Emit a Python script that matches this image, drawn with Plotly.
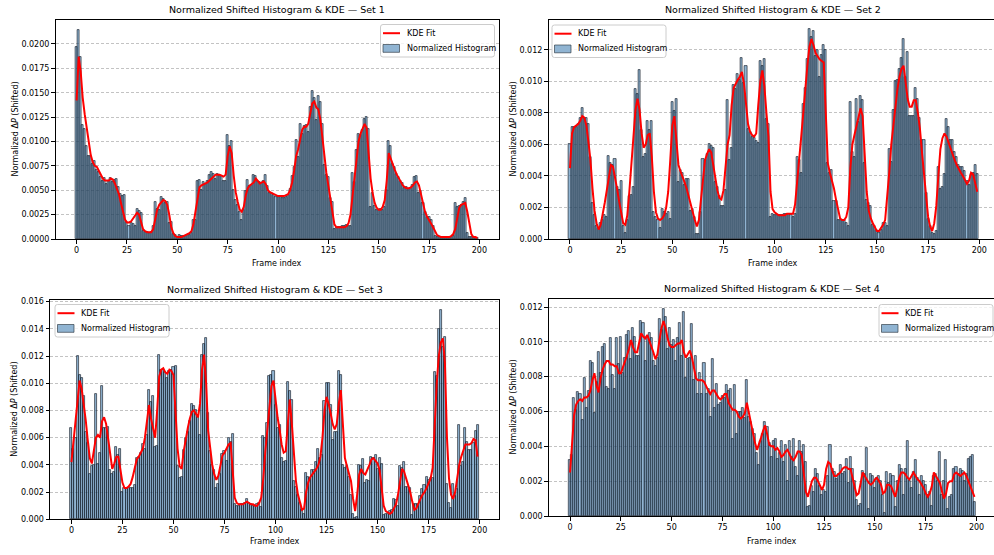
import plotly.graph_objects as go

frames = list(range(200))
x_tick_vals = [0, 25, 50, 75, 100, 125, 150, 175, 200]
titles = ["Normalized Shifted Histogram & KDE — Set 1",
          "Normalized Shifted Histogram & KDE — Set 2",
          "Normalized Shifted Histogram & KDE — Set 3",
          "Normalized Shifted Histogram & KDE — Set 4"]
x_label = "Frame index"
y_label = "Normalized Δ<i>P</i> (Shifted)"
kde_name = "KDE Fit"
hist_name = "Normalized Histogram"

hist_set1 = [
    0.0197, 0.0214, 0.0187, 0.0117, 0.0113, 0.0095, 0.0085, 0.0085, 0.0077, 0.0080,
    0.0071, 0.0069, 0.0064, 0.0059, 0.0063, 0.0056, 0.0059, 0.0063, 0.0058, 0.0061,
    0.0062, 0.0053, 0.0046, 0.0044, 0.0045, 0.0017, 0.0013, 0.0016, 0.0015, 0.0013,
    0.0031, 0.0029, 0.0027, 0.0008, 0.0007, 0.0007, 0.0006, 0.0007, 0.0013, 0.0038,
    0.0031, 0.0030, 0.0043, 0.0041, 0.0037, 0.0038, 0.0016, 0.0017, 0.0005, 0.0004,
    0.0002, 0.0004, 0.0003, 0.0003, 0.0003, 0.0004, 0.0004, 0.0006, 0.0019, 0.0019,
    0.0059, 0.0061, 0.0050, 0.0058, 0.0056, 0.0060, 0.0066, 0.0069, 0.0067, 0.0062,
    0.0067, 0.0065, 0.0065, 0.0059, 0.0060, 0.0107, 0.0095, 0.0101, 0.0050, 0.0040,
    0.0035, 0.0028, 0.0019, 0.0030, 0.0049, 0.0061, 0.0054, 0.0055, 0.0066, 0.0065,
    0.0060, 0.0058, 0.0057, 0.0060, 0.0066, 0.0054, 0.0047, 0.0047, 0.0045, 0.0043,
    0.0043, 0.0043, 0.0042, 0.0042, 0.0043, 0.0045, 0.0051, 0.0065, 0.0074, 0.0102,
    0.0084, 0.0118, 0.0108, 0.0116, 0.0117, 0.0110, 0.0135, 0.0152, 0.0145, 0.0122,
    0.0147, 0.0140, 0.0118, 0.0076, 0.0066, 0.0064, 0.0042, 0.0038, 0.0010, 0.0011,
    0.0012, 0.0012, 0.0013, 0.0013, 0.0014, 0.0013, 0.0013, 0.0068, 0.0058, 0.0091,
    0.0108, 0.0107, 0.0112, 0.0123, 0.0125, 0.0113, 0.0033, 0.0047, 0.0034, 0.0030,
    0.0030, 0.0031, 0.0030, 0.0033, 0.0050, 0.0100, 0.0095, 0.0077, 0.0074, 0.0067,
    0.0064, 0.0060, 0.0057, 0.0052, 0.0053, 0.0051, 0.0052, 0.0055, 0.0064, 0.0065,
    0.0047, 0.0049, 0.0037, 0.0028, 0.0023, 0.0023, 0.0019, 0.0013, 0.0003, 0.0002,
    0.0002, 0.0002, 0.0002, 0.0002, 0.0002, 0.0002, 0.0002, 0.0003, 0.0037, 0.0033,
    0.0034, 0.0035, 0.0038, 0.0042, 0.0006, 0.0002, 0.0002, 0.0002, 0.0001, 0.0001,
]

kde_set1 = [
    0.0142, 0.0187, 0.0172, 0.0145, 0.0128, 0.0115, 0.0100, 0.0086, 0.0079, 0.0075,
    0.0074, 0.0070, 0.0066, 0.0062, 0.0060, 0.0060, 0.0060, 0.0062, 0.0061, 0.0057,
    0.0052, 0.0046, 0.0037, 0.0027, 0.0020, 0.0017, 0.0017, 0.0018, 0.0021, 0.0025,
    0.0027, 0.0025, 0.0018, 0.0010, 0.0008, 0.0007, 0.0007, 0.0007, 0.0010, 0.0020,
    0.0030, 0.0035, 0.0038, 0.0040, 0.0039, 0.0035, 0.0025, 0.0012, 0.0006, 0.0003,
    0.0002, 0.0002, 0.0002, 0.0003, 0.0004, 0.0005, 0.0006, 0.0008, 0.0015, 0.0028,
    0.0042, 0.0053, 0.0055, 0.0056, 0.0057, 0.0058, 0.0060, 0.0062, 0.0064, 0.0066,
    0.0066, 0.0066, 0.0065, 0.0064, 0.0066, 0.0085, 0.0095, 0.0088, 0.0065, 0.0048,
    0.0038, 0.0030, 0.0028, 0.0033, 0.0045, 0.0052, 0.0055, 0.0057, 0.0058, 0.0062,
    0.0060, 0.0057, 0.0058, 0.0059, 0.0056, 0.0050, 0.0048, 0.0047, 0.0046, 0.0045,
    0.0044, 0.0044, 0.0044, 0.0044, 0.0045, 0.0046, 0.0050, 0.0058, 0.0070, 0.0085,
    0.0092, 0.0102, 0.0112, 0.0115, 0.0115, 0.0118, 0.0128, 0.0139, 0.0141, 0.0135,
    0.0133, 0.0123, 0.0105, 0.0085, 0.0068, 0.0055, 0.0042, 0.0028, 0.0015, 0.0012,
    0.0012, 0.0012, 0.0012, 0.0012, 0.0013, 0.0016, 0.0025, 0.0045, 0.0065, 0.0085,
    0.0100, 0.0108, 0.0113, 0.0118, 0.0114, 0.0090, 0.0062, 0.0047, 0.0037, 0.0032,
    0.0030, 0.0030, 0.0033, 0.0040, 0.0060, 0.0088, 0.0082, 0.0075, 0.0071, 0.0066,
    0.0062, 0.0058, 0.0055, 0.0053, 0.0052, 0.0052, 0.0053, 0.0055, 0.0058, 0.0059,
    0.0055, 0.0046, 0.0036, 0.0028, 0.0023, 0.0020, 0.0016, 0.0012, 0.0007, 0.0004,
    0.0003, 0.0002, 0.0002, 0.0002, 0.0002, 0.0002, 0.0003, 0.0005, 0.0010, 0.0020,
    0.0032, 0.0035, 0.0036, 0.0037, 0.0028, 0.0014, 0.0005, 0.0002, 0.0002, 0.0001,
]

hist_set2 = [
    0.0060, 0.0071, 0.0071, 0.0071, 0.0073, 0.0077, 0.0083, 0.0077, 0.0077, 0.0073,
    0.0052, 0.0023, 0.0015, 0.0008, 0.0007, 0.0010, 0.0012, 0.0015, 0.0014, 0.0053,
    0.0048, 0.0047, 0.0051, 0.0033, 0.0031, 0.0037, 0.0008, 0.0004, 0.0012, 0.0027,
    0.0028, 0.0033, 0.0095, 0.0092, 0.0107, 0.0069, 0.0052, 0.0054, 0.0075, 0.0069,
    0.0075, 0.0017, 0.0014, 0.0012, 0.0007, 0.0019, 0.0017, 0.0016, 0.0017, 0.0013,
    0.0087, 0.0081, 0.0089, 0.0036, 0.0044, 0.0042, 0.0034, 0.0038, 0.0038, 0.0018,
    0.0019, 0.0014, 0.0003, 0.0003, 0.0017, 0.0051, 0.0050, 0.0054, 0.0060, 0.0059,
    0.0058, 0.0036, 0.0033, 0.0027, 0.0021, 0.0021, 0.0031, 0.0088, 0.0050, 0.0058,
    0.0098, 0.0095, 0.0105, 0.0101, 0.0115, 0.0099, 0.0110, 0.0070, 0.0068, 0.0065,
    0.0064, 0.0062, 0.0061, 0.0113, 0.0110, 0.0114, 0.0076, 0.0073, 0.0014, 0.0016,
    0.0015, 0.0015, 0.0015, 0.0015, 0.0015, 0.0016, 0.0016, 0.0016, 0.0015, 0.0014,
    0.0016, 0.0052, 0.0050, 0.0042, 0.0086, 0.0096, 0.0114, 0.0133, 0.0128, 0.0132,
    0.0116, 0.0120, 0.0103, 0.0117, 0.0123, 0.0120, 0.0048, 0.0042, 0.0044, 0.0024,
    0.0024, 0.0012, 0.0012, 0.0012, 0.0012, 0.0010, 0.0008, 0.0087, 0.0055, 0.0052,
    0.0089, 0.0074, 0.0091, 0.0088, 0.0048, 0.0025, 0.0023, 0.0021, 0.0009, 0.0008,
    0.0006, 0.0004, 0.0006, 0.0010, 0.0010, 0.0008, 0.0057, 0.0049, 0.0082, 0.0100,
    0.0101, 0.0108, 0.0115, 0.0127, 0.0103, 0.0119, 0.0078, 0.0078, 0.0078, 0.0096,
    0.0089, 0.0077, 0.0063, 0.0063, 0.0029, 0.0013, 0.0008, 0.0004, 0.0003, 0.0005,
    0.0046, 0.0032, 0.0033, 0.0041, 0.0076, 0.0071, 0.0063, 0.0063, 0.0055, 0.0052,
    0.0047, 0.0046, 0.0046, 0.0043, 0.0037, 0.0034, 0.0041, 0.0042, 0.0047, 0.0041,
]

kde_set2 = [
    0.0045, 0.0067, 0.0071, 0.0072, 0.0073, 0.0075, 0.0078, 0.0077, 0.0072, 0.0062,
    0.0050, 0.0032, 0.0018, 0.0010, 0.0006, 0.0009, 0.0015, 0.0023, 0.0031, 0.0040,
    0.0047, 0.0046, 0.0040, 0.0032, 0.0024, 0.0017, 0.0010, 0.0009, 0.0015, 0.0030,
    0.0046, 0.0065, 0.0082, 0.0089, 0.0082, 0.0067, 0.0058, 0.0060, 0.0066, 0.0067,
    0.0052, 0.0030, 0.0017, 0.0013, 0.0012, 0.0013, 0.0015, 0.0020, 0.0030, 0.0050,
    0.0072, 0.0078, 0.0060, 0.0047, 0.0043, 0.0040, 0.0036, 0.0032, 0.0027, 0.0022,
    0.0016, 0.0012, 0.0008, 0.0012, 0.0025, 0.0040, 0.0050, 0.0054, 0.0057, 0.0055,
    0.0047, 0.0039, 0.0031, 0.0026, 0.0025, 0.0031, 0.0048, 0.0060, 0.0066, 0.0085,
    0.0096, 0.0099, 0.0101, 0.0103, 0.0106, 0.0099, 0.0085, 0.0073, 0.0068, 0.0066,
    0.0065, 0.0067, 0.0085, 0.0100, 0.0107, 0.0097, 0.0080, 0.0065, 0.0030, 0.0019,
    0.0017, 0.0016, 0.0015, 0.0015, 0.0015, 0.0015, 0.0016, 0.0016, 0.0016, 0.0016,
    0.0022, 0.0035, 0.0050, 0.0065, 0.0080, 0.0097, 0.0110, 0.0122, 0.0127, 0.0123,
    0.0118, 0.0116, 0.0114, 0.0113, 0.0112, 0.0080, 0.0048, 0.0042, 0.0037, 0.0032,
    0.0025, 0.0018, 0.0013, 0.0012, 0.0012, 0.0014, 0.0020, 0.0045, 0.0060, 0.0066,
    0.0072, 0.0078, 0.0083, 0.0078, 0.0055, 0.0030, 0.0018, 0.0013, 0.0010, 0.0007,
    0.0005, 0.0005, 0.0007, 0.0009, 0.0012, 0.0025, 0.0042, 0.0060, 0.0072, 0.0085,
    0.0095, 0.0103, 0.0108, 0.0110, 0.0100, 0.0089, 0.0084, 0.0084, 0.0088, 0.0088,
    0.0080, 0.0070, 0.0055, 0.0040, 0.0025, 0.0014, 0.0008, 0.0005, 0.0010, 0.0021,
    0.0040, 0.0057, 0.0064, 0.0067, 0.0065, 0.0061, 0.0057, 0.0053, 0.0050, 0.0047,
    0.0044, 0.0042, 0.0040, 0.0037, 0.0035, 0.0037, 0.0042, 0.0041, 0.0036, 0.0030,
]

hist_set3 = [
    0.0067, 0.0052, 0.0060, 0.0120, 0.0106, 0.0104, 0.0091, 0.0064, 0.0056, 0.0033,
    0.0039, 0.0040, 0.0092, 0.0041, 0.0049, 0.0098, 0.0067, 0.0067, 0.0068, 0.0036,
    0.0033, 0.0035, 0.0053, 0.0047, 0.0052, 0.0020, 0.0023, 0.0023, 0.0023, 0.0023,
    0.0023, 0.0025, 0.0045, 0.0046, 0.0049, 0.0055, 0.0052, 0.0062, 0.0095, 0.0086,
    0.0091, 0.0053, 0.0054, 0.0121, 0.0110, 0.0110, 0.0108, 0.0104, 0.0109, 0.0110,
    0.0112, 0.0113, 0.0039, 0.0030, 0.0031, 0.0051, 0.0060, 0.0064, 0.0072, 0.0085,
    0.0083, 0.0080, 0.0075, 0.0062, 0.0121, 0.0129, 0.0133, 0.0078, 0.0050, 0.0040,
    0.0036, 0.0023, 0.0026, 0.0033, 0.0048, 0.0050, 0.0043, 0.0060, 0.0057, 0.0063,
    0.0011, 0.0010, 0.0010, 0.0011, 0.0011, 0.0012, 0.0015, 0.0012, 0.0011, 0.0010,
    0.0010, 0.0011, 0.0012, 0.0009, 0.0061, 0.0060, 0.0071, 0.0105, 0.0106, 0.0109,
    0.0084, 0.0067, 0.0069, 0.0045, 0.0042, 0.0043, 0.0101, 0.0094, 0.0088, 0.0028,
    0.0024, 0.0018, 0.0012, 0.0007, 0.0004, 0.0034, 0.0031, 0.0030, 0.0036, 0.0036,
    0.0042, 0.0052, 0.0045, 0.0047, 0.0087, 0.0100, 0.0100, 0.0084, 0.0058, 0.0064,
    0.0064, 0.0109, 0.0106, 0.0040, 0.0038, 0.0039, 0.0031, 0.0018, 0.0004, 0.0001,
    0.0002, 0.0040, 0.0039, 0.0044, 0.0027, 0.0029, 0.0028, 0.0046, 0.0045, 0.0047,
    0.0037, 0.0045, 0.0041, 0.0003, 0.0004, 0.0004, 0.0006, 0.0007, 0.0015, 0.0014,
    0.0010, 0.0039, 0.0038, 0.0042, 0.0024, 0.0024, 0.0023, 0.0003, 0.0011, 0.0011,
    0.0011, 0.0017, 0.0022, 0.0025, 0.0031, 0.0029, 0.0030, 0.0030, 0.0108, 0.0105,
    0.0140, 0.0154, 0.0127, 0.0134, 0.0026, 0.0012, 0.0008, 0.0026, 0.0017, 0.0022,
    0.0069, 0.0039, 0.0042, 0.0067, 0.0057, 0.0051, 0.0051, 0.0056, 0.0065, 0.0069,
]

kde_set3 = [
    0.0042, 0.0057, 0.0072, 0.0090, 0.0102, 0.0096, 0.0085, 0.0073, 0.0058, 0.0045,
    0.0041, 0.0052, 0.0060, 0.0062, 0.0060, 0.0072, 0.0075, 0.0070, 0.0058, 0.0045,
    0.0037, 0.0041, 0.0046, 0.0046, 0.0037, 0.0027, 0.0023, 0.0023, 0.0024, 0.0026,
    0.0031, 0.0038, 0.0044, 0.0046, 0.0049, 0.0052, 0.0060, 0.0071, 0.0084, 0.0074,
    0.0066, 0.0060, 0.0080, 0.0105, 0.0110, 0.0111, 0.0108, 0.0107, 0.0110, 0.0109,
    0.0106, 0.0080, 0.0052, 0.0039, 0.0037, 0.0050, 0.0060, 0.0067, 0.0074, 0.0079,
    0.0080, 0.0077, 0.0075, 0.0085, 0.0110, 0.0121, 0.0100, 0.0065, 0.0050, 0.0040,
    0.0033, 0.0029, 0.0032, 0.0040, 0.0047, 0.0049, 0.0052, 0.0055, 0.0056, 0.0037,
    0.0016, 0.0012, 0.0011, 0.0011, 0.0011, 0.0012, 0.0013, 0.0012, 0.0011, 0.0011,
    0.0010, 0.0010, 0.0012, 0.0016, 0.0030, 0.0050, 0.0068, 0.0085, 0.0098, 0.0102,
    0.0088, 0.0075, 0.0066, 0.0055, 0.0049, 0.0050, 0.0070, 0.0088, 0.0070, 0.0045,
    0.0028, 0.0018, 0.0012, 0.0007, 0.0008, 0.0020, 0.0027, 0.0031, 0.0033, 0.0035,
    0.0037, 0.0040, 0.0046, 0.0060, 0.0080, 0.0090, 0.0085, 0.0078, 0.0070, 0.0066,
    0.0070, 0.0085, 0.0095, 0.0070, 0.0045, 0.0039, 0.0033, 0.0028, 0.0015, 0.0006,
    0.0018, 0.0033, 0.0037, 0.0034, 0.0033, 0.0036, 0.0040, 0.0044, 0.0045, 0.0043,
    0.0041, 0.0036, 0.0022, 0.0010, 0.0006, 0.0005, 0.0004, 0.0005, 0.0008, 0.0011,
    0.0018, 0.0028, 0.0037, 0.0035, 0.0030, 0.0025, 0.0020, 0.0013, 0.0007, 0.0008,
    0.0012, 0.0015, 0.0018, 0.0020, 0.0023, 0.0026, 0.0030, 0.0038, 0.0070, 0.0100,
    0.0120, 0.0130, 0.0133, 0.0115, 0.0060, 0.0030, 0.0018, 0.0015, 0.0020, 0.0030,
    0.0040, 0.0046, 0.0050, 0.0055, 0.0055, 0.0055, 0.0056, 0.0059, 0.0058, 0.0046,
]

hist_set4 = [
    0.0032, 0.0035, 0.0068, 0.0061, 0.0071, 0.0070, 0.0055, 0.0079, 0.0062, 0.0072,
    0.0089, 0.0088, 0.0059, 0.0077, 0.0094, 0.0082, 0.0097, 0.0099, 0.0074, 0.0073,
    0.0102, 0.0081, 0.0073, 0.0102, 0.0087, 0.0103, 0.0082, 0.0091, 0.0104, 0.0106,
    0.0090, 0.0108, 0.0103, 0.0092, 0.0092, 0.0112, 0.0111, 0.0089, 0.0103, 0.0105,
    0.0102, 0.0089, 0.0086, 0.0091, 0.0113, 0.0107, 0.0119, 0.0114, 0.0096, 0.0108,
    0.0098, 0.0101, 0.0089, 0.0102, 0.0111, 0.0092, 0.0117, 0.0079, 0.0090, 0.0091,
    0.0110, 0.0078, 0.0092, 0.0070, 0.0082, 0.0070, 0.0088, 0.0070, 0.0073, 0.0057,
    0.0090, 0.0062, 0.0076, 0.0064, 0.0065, 0.0069, 0.0068, 0.0075, 0.0072, 0.0073,
    0.0044, 0.0075, 0.0047, 0.0060, 0.0060, 0.0062, 0.0056, 0.0078, 0.0057, 0.0054,
    0.0050, 0.0047, 0.0036, 0.0029, 0.0043, 0.0047, 0.0054, 0.0051, 0.0042, 0.0034,
    0.0043, 0.0044, 0.0033, 0.0036, 0.0043, 0.0031, 0.0041, 0.0020, 0.0043, 0.0034,
    0.0044, 0.0028, 0.0023, 0.0043, 0.0037, 0.0041, 0.0031, 0.0005, 0.0006, 0.0017,
    0.0014, 0.0027, 0.0024, 0.0017, 0.0012, 0.0015, 0.0014, 0.0023, 0.0041, 0.0027,
    0.0025, 0.0021, 0.0024, 0.0029, 0.0024, 0.0025, 0.0033, 0.0019, 0.0034, 0.0027,
    0.0020, 0.0009, 0.0006, 0.0007, 0.0026, 0.0024, 0.0039, 0.0004, 0.0024, 0.0023,
    0.0016, 0.0022, 0.0023, 0.0020, 0.0012, 0.0002, 0.0025, 0.0019, 0.0024, 0.0023,
    0.0005, 0.0020, 0.0029, 0.0027, 0.0012, 0.0027, 0.0043, 0.0020, 0.0016, 0.0025,
    0.0032, 0.0022, 0.0012, 0.0023, 0.0020, 0.0018, 0.0012, 0.0014, 0.0006, 0.0023,
    0.0024, 0.0020, 0.0037, 0.0012, 0.0020, 0.0032, 0.0004, 0.0011, 0.0012, 0.0027,
    0.0028, 0.0024, 0.0027, 0.0026, 0.0020, 0.0024, 0.0033, 0.0034, 0.0035, 0.0008,
]

kde_set4 = [
    0.0025, 0.0042, 0.0058, 0.0064, 0.0066, 0.0067, 0.0066, 0.0068, 0.0068, 0.0069,
    0.0072, 0.0078, 0.0082, 0.0075, 0.0071, 0.0079, 0.0084, 0.0087, 0.0089, 0.0089,
    0.0087, 0.0087, 0.0086, 0.0086, 0.0082, 0.0082, 0.0085, 0.0088, 0.0092, 0.0096,
    0.0101, 0.0097, 0.0094, 0.0094, 0.0100, 0.0105, 0.0103, 0.0102, 0.0104, 0.0101,
    0.0098, 0.0094, 0.0090, 0.0093, 0.0101, 0.0108, 0.0112, 0.0108, 0.0102, 0.0098,
    0.0097, 0.0097, 0.0098, 0.0099, 0.0099, 0.0101, 0.0094, 0.0091, 0.0093, 0.0095,
    0.0091, 0.0084, 0.0079, 0.0078, 0.0078, 0.0078, 0.0077, 0.0074, 0.0072, 0.0070,
    0.0072, 0.0072, 0.0070, 0.0068, 0.0067, 0.0068, 0.0070, 0.0070, 0.0065, 0.0063,
    0.0061, 0.0061, 0.0060, 0.0057, 0.0056, 0.0057, 0.0059, 0.0065, 0.0059, 0.0053,
    0.0047, 0.0042, 0.0038, 0.0041, 0.0045, 0.0049, 0.0052, 0.0047, 0.0041, 0.0040,
    0.0040, 0.0038, 0.0039, 0.0037, 0.0034, 0.0035, 0.0037, 0.0038, 0.0035, 0.0033,
    0.0032, 0.0034, 0.0037, 0.0037, 0.0035, 0.0025, 0.0014, 0.0011, 0.0016, 0.0020,
    0.0022, 0.0022, 0.0020, 0.0017, 0.0015, 0.0018, 0.0027, 0.0031, 0.0030, 0.0026,
    0.0023, 0.0023, 0.0024, 0.0025, 0.0027, 0.0028, 0.0028, 0.0027, 0.0027, 0.0022,
    0.0016, 0.0012, 0.0013, 0.0019, 0.0025, 0.0023, 0.0021, 0.0019, 0.0018, 0.0019,
    0.0021, 0.0022, 0.0020, 0.0018, 0.0013, 0.0014, 0.0018, 0.0018, 0.0017, 0.0014,
    0.0011, 0.0016, 0.0022, 0.0025, 0.0025, 0.0024, 0.0022, 0.0021, 0.0023, 0.0025,
    0.0023, 0.0021, 0.0020, 0.0018, 0.0016, 0.0013, 0.0011, 0.0013, 0.0017, 0.0025,
    0.0023, 0.0021, 0.0019, 0.0014, 0.0010, 0.0013, 0.0019, 0.0020, 0.0020, 0.0024,
    0.0025, 0.0024, 0.0023, 0.0024, 0.0025, 0.0023, 0.0020, 0.0018, 0.0014, 0.0011,
]

hist_sets = [hist_set1, hist_set2, hist_set3, hist_set4]
kde_sets = [kde_set1, kde_set2, kde_set3, kde_set4]
for h, k in zip(hist_sets, kde_sets):
    assert len(h) == 200 and len(k) == 200

W, H = 994, 555
FONT = "DejaVu Sans"
BAR_FILL = "rgba(70,130,180,0.6)"
BAR_EDGE = "rgba(10,15,25,0.75)"
LEG_FILL = "rgb(144,180,210)"


def px(x):
    return x / W


def py(y):
    return 1 - y / H


def rounded_rect(x0, y0, x1, y1, r=2.5):
    pts = [
        f"M{px(x0 + r)},{py(y0)}", f"L{px(x1 - r)},{py(y0)}", f"Q{px(x1)},{py(y0)} {px(x1)},{py(y0 + r)}",
        f"L{px(x1)},{py(y1 - r)}", f"Q{px(x1)},{py(y1)} {px(x1 - r)},{py(y1)}",
        f"L{px(x0 + r)},{py(y1)}", f"Q{px(x0)},{py(y1)} {px(x0)},{py(y1 - r)}",
        f"L{px(x0)},{py(y0 + r)}", f"Q{px(x0)},{py(y0)} {px(x0 + r)},{py(y0)}", "Z",
    ]
    return " ".join(pts)


panels = [
    dict(l=55.5, r=498.5, t=20, b=239, xr=[-10.5, 209.5], yr=[0, 0.02246], dt=0.0025, fmt=".4f", ymirror=True,
         leg=(380.5, 24.5), cx=277, ylx=15, xly=263),
    dict(l=548.5, r=994, t=20, b=239, xr=[-10.5, 207.2], yr=[0, 0.0139], dt=0.002, fmt=".3f", ymirror=False,
         leg=(552, 25), cx=773, ylx=513, xly=263),
    dict(l=50, r=499, t=300, b=519.3, xr=[-10.5, 209.5], yr=[0, 0.01612], dt=0.002, fmt=".3f", ymirror=True,
         leg=(55, 304.5), cx=275, ylx=15, xly=541),
    dict(l=548.7, r=994, t=299, b=516, xr=[-10.5, 208.6], yr=[0, 0.01246], dt=0.002, fmt=".3f", ymirror=False,
         leg=(879, 304.5), cx=772, ylx=513, xly=541),
]

LEG_W, LEG_H = 114, 32.5

fig = go.Figure()
annotations = []
shapes = []
layout_axes = {}
for i, (p, h, k) in enumerate(zip(panels, hist_sets, kde_sets)):
    n = i + 1
    xa = "x" if n == 1 else f"x{n}"
    ya = "y" if n == 1 else f"y{n}"
    fig.add_trace(go.Scatter(x=frames, y=k, mode="lines", name=kde_name, showlegend=False,
                             line=dict(color="red", width=2), xaxis=xa, yaxis=ya))
    fig.add_trace(go.Bar(x=frames, y=h, name=hist_name, width=1.0, showlegend=False,
                         marker=dict(color=BAR_FILL, line=dict(color=BAR_EDGE, width=0.8)),
                         xaxis=xa, yaxis=ya))
    xkey = "xaxis" if n == 1 else f"xaxis{n}"
    ykey = "yaxis" if n == 1 else f"yaxis{n}"
    layout_axes[xkey] = dict(domain=[px(p["l"]), px(p["r"])], range=p["xr"], anchor=ya, automargin=False,
                             tickvals=x_tick_vals, ticks="outside", ticklen=3.5, tickwidth=1, tickcolor="black",
                             showline=True, linecolor="black", linewidth=1, mirror=True,
                             showgrid=False, zeroline=False,
                             tickfont=dict(family=FONT, size=8, color="black"))
    layout_axes[ykey] = dict(domain=[py(p["b"]), py(p["t"])], range=p["yr"], anchor=xa, automargin=False,
                             dtick=p["dt"], tick0=0, tickformat=p["fmt"],
                             ticks="outside", ticklen=3.5, tickwidth=1, tickcolor="black",
                             showline=True, linecolor="black", linewidth=1, mirror=p["ymirror"],
                             showgrid=True, gridcolor="rgba(170,170,170,0.7)", griddash="3px,2px", gridwidth=0.8,
                             zeroline=False,
                             tickfont=dict(family=FONT, size=8, color="black"))
    annotations.append(dict(text=titles[i], x=px(p["cx"]), y=py(p["t"] - 3.5), xref="paper", yref="paper",
                            showarrow=False, xanchor="center", yanchor="bottom",
                            font=dict(family=FONT, size=9.5, color="black")))
    annotations.append(dict(text=x_label, x=px(p["cx"]), y=py(p["xly"]), xref="paper", yref="paper",
                            showarrow=False, xanchor="center", yanchor="middle",
                            font=dict(family=FONT, size=8, color="black")))
    annotations.append(dict(text=y_label, x=px(p["ylx"]), y=py((p["t"] + p["b"]) / 2), xref="paper", yref="paper",
                            showarrow=False, xanchor="center", yanchor="middle", textangle=-90,
                            font=dict(family=FONT, size=8, color="black")))
    lx, ly = p["leg"]
    shapes.append(dict(type="path", xref="paper", yref="paper", path=rounded_rect(lx, ly, lx + LEG_W, ly + LEG_H),
                       fillcolor="rgba(255,255,255,0.8)", line=dict(color="#cccccc", width=1), layer="above"))
    shapes.append(dict(type="line", xref="paper", yref="paper", x0=px(lx + 2.5), x1=px(lx + 19.5),
                       y0=py(ly + 8.7), y1=py(ly + 8.7), line=dict(color="red", width=2), layer="above"))
    shapes.append(dict(type="rect", xref="paper", yref="paper", x0=px(lx + 2.5), x1=px(lx + 19),
                       y0=py(ly + 20), y1=py(ly + 27.8), fillcolor=LEG_FILL,
                       line=dict(color="rgba(40,50,60,0.8)", width=0.8), layer="above"))
    annotations.append(dict(text=kde_name, x=px(lx + 24), y=py(ly + 8.7), xref="paper", yref="paper",
                            showarrow=False, xanchor="left", yanchor="middle",
                            font=dict(family=FONT, size=8, color="black")))
    annotations.append(dict(text=hist_name, x=px(lx + 24), y=py(ly + 24), xref="paper", yref="paper",
                            showarrow=False, xanchor="left", yanchor="middle",
                            font=dict(family=FONT, size=8, color="black")))

fig.update_layout(width=W, height=H, margin=dict(l=0, r=0, t=0, b=0, autoexpand=False),
                  paper_bgcolor="white", plot_bgcolor="white",
                  bargap=0, showlegend=False, annotations=annotations, shapes=shapes, **layout_axes)

fig.write_html("out.html", config={"displayModeBar": False},
               post_script="document.body.style.margin='0px';document.body.style.overflow='hidden';")
